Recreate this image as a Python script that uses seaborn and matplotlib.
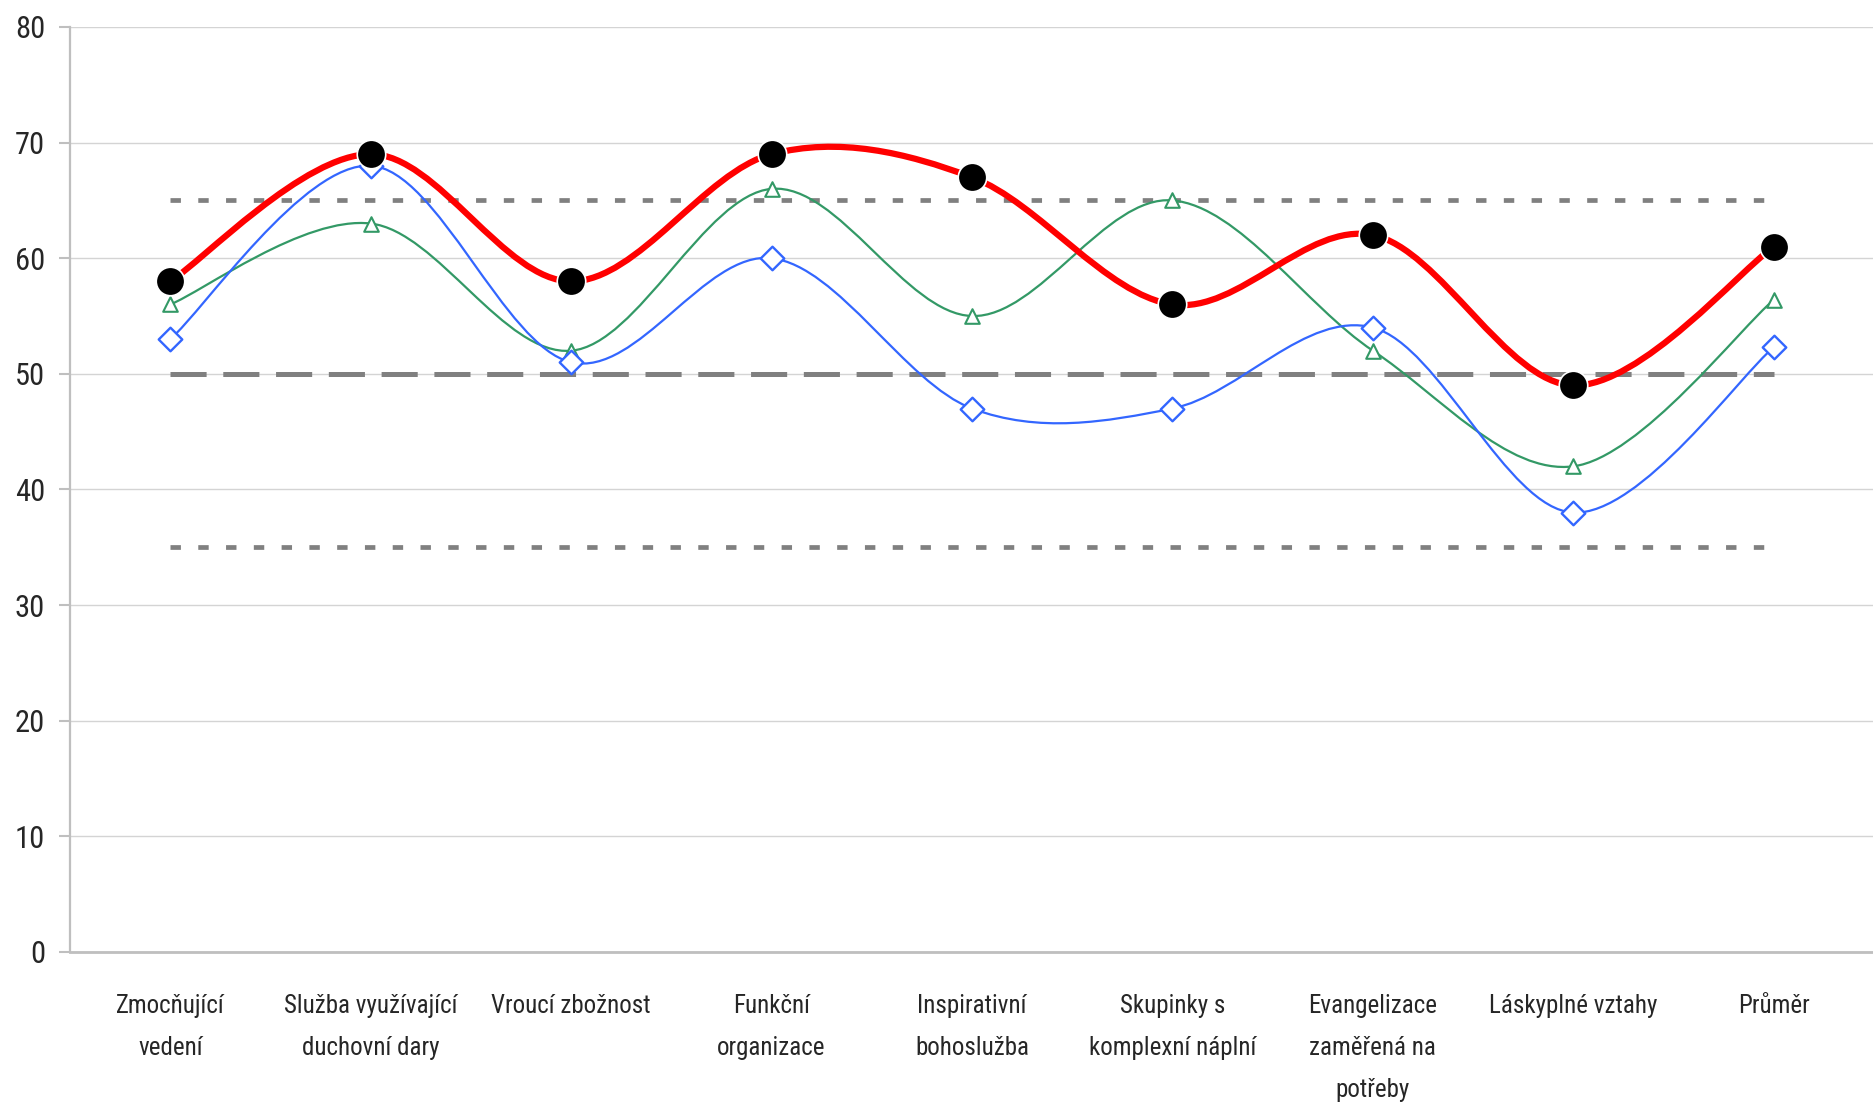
import numpy as np
import pandas as pd
import matplotlib
matplotlib.use("Agg")
import matplotlib.pyplot as plt
import seaborn as sns
from matplotlib.path import Path
from matplotlib.patches import PathPatch

categories = [
    "Zmocňující\nvedení",
    "Služba využívající\nduchovní dary",
    "Vroucí zbožnost",
    "Funkční\norganizace",
    "Inspirativní\nbohoslužba",
    "Skupinky s\nkomplexní náplní",
    "Evangelizace\nzaměřená na\npotřeby",
    "Láskyplné vztahy",
    "Průměr",
]
red_vals = [58, 69, 58, 69, 67, 56, 62, 49, 61]
green_vals = [56, 63, 52, 66, 55, 65, 52, 42, 56.4]
blue_vals = [53, 68, 51, 60, 47, 47, 54, 38, 52.3]
dotted_levels = [65, 35]
dashed_levels = [50]
y_ticks = [0, 10, 20, 30, 40, 50, 60, 70, 80]

sns.set_style("white")
plt.rcParams["font.family"] = ["Roboto Condensed", "DejaVu Sans"]
plt.rcParams["lines.scale_dashes"] = False

fig = plt.figure(figsize=(18.74, 11.05), dpi=100)
ax = fig.add_axes([0.0374, 0.1385, 0.9626, 0.9756 - 0.1385])

x = np.arange(len(categories))


def smooth_path(xs, ys):
    # Excel-style smoothed line: cubic Bezier segments (Catmull-Rom control points)
    pts = np.column_stack([xs, ys]).astype(float)
    ext = np.vstack([pts[0], pts, pts[-1]])
    verts = [pts[0]]
    codes = [Path.MOVETO]
    for i in range(len(pts) - 1):
        p0, p1, p2, p3 = ext[i], ext[i + 1], ext[i + 2], ext[i + 3]
        verts += [p1 + (p2 - p0) / 6, p2 - (p3 - p1) / 6, p2]
        codes += [Path.CURVE4] * 3
    return Path(np.array(verts), codes)


# reference lines
for lvl in dotted_levels:
    sns.lineplot(x=[x[0], x[-1]], y=[lvl, lvl], ax=ax, color="#808080", lw=3.4,
                 zorder=2).lines[-1].set_dashes((7.5, 12.5))
for lvl in dashed_levels:
    sns.lineplot(x=[x[0], x[-1]], y=[lvl, lvl], ax=ax, color="#808080", lw=3.6,
                 zorder=2).lines[-1].set_dashes((26, 12))

series = [
    (green_vals, "#339966", 1.6, 3),
    (blue_vals, "#3366FF", 1.6, 4),
    (red_vals, "#FF0000", 4.5, 5),
]
for vals, col, lw, z in series:
    ax.add_patch(PathPatch(smooth_path(x, vals), fill=False, edgecolor=col, lw=lw,
                           capstyle="round", joinstyle="round", zorder=z))

df = pd.DataFrame({"x": x, "red": red_vals, "green": green_vals, "blue": blue_vals})
sns.scatterplot(data=df, x="x", y="green", ax=ax, marker="^", s=10.5 ** 2,
                color="white", edgecolor="#339966", linewidth=1.5, zorder=6)
sns.scatterplot(data=df, x="x", y="blue", ax=ax, marker="D", s=12 ** 2,
                color="white", edgecolor="#3366FF", linewidth=1.7, zorder=7)
sns.scatterplot(data=df, x="x", y="red", ax=ax, marker="o", s=20.5 ** 2,
                color="black", edgecolor="white", linewidth=1.2, zorder=8)

ax.set_xlim(-0.5, 8.41)
ax.set_ylim(0, 80)
ax.set_yticks(y_ticks)
ax.set_yticklabels([str(t) for t in y_ticks], fontsize=22)
ax.set_xticks(x)
ax.set_xticklabels(categories, fontsize=18, linespacing=1.96, va="top")
ax.set_xticks(np.arange(len(categories) + 1) - 0.5, minor=True)
ax.tick_params(axis="x", which="major", length=0, pad=30)
ax.tick_params(axis="x", which="minor", length=8, width=1.5, color="#BFBFBF")
ax.tick_params(axis="y", length=8, width=1.5, color="#BFBFBF", pad=10, left=True)
ax.set_xlabel("")
ax.set_ylabel("")

ax.grid(axis="y", color="#D4D4D4", lw=1.0, zorder=0)
ax.set_axisbelow(True)
for side in ["top", "right"]:
    ax.spines[side].set_visible(False)
ax.spines["left"].set_color("#BFBFBF")
ax.spines["left"].set_linewidth(1.6)
ax.spines["bottom"].set_color("#BFBFBF")
ax.spines["bottom"].set_linewidth(2.0)

plt.savefig("out.png", dpi=100)
